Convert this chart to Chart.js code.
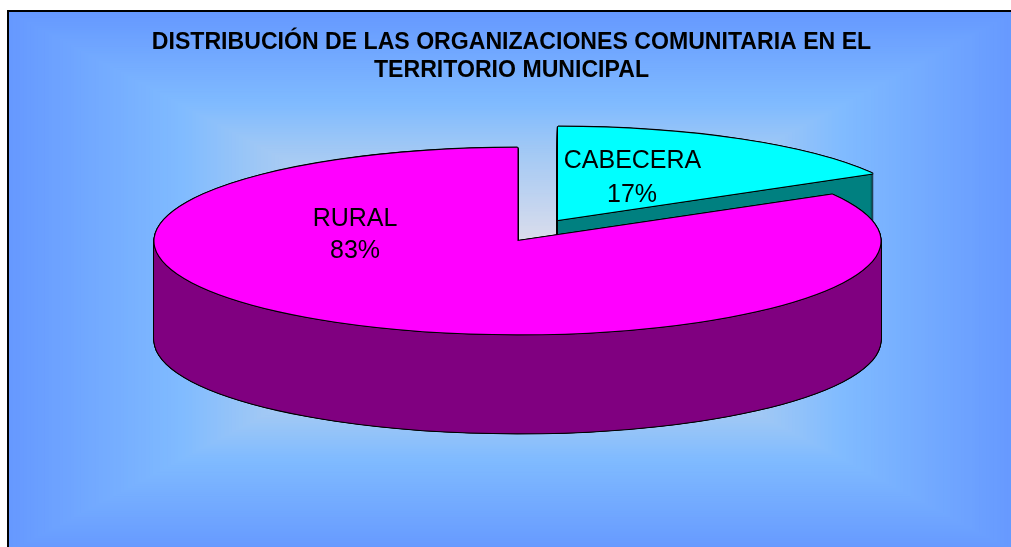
<!DOCTYPE html>
<html>
<head>
<meta charset="utf-8">
<style>html,body{margin:0;padding:0;background:#fff;overflow:hidden}canvas{display:block}</style>
<script src="https://cdn.jsdelivr.net/npm/chart.js@4/dist/chart.umd.min.js"></script>
</head>
<body>
<canvas id="c" width="1011" height="547"></canvas>
<script>
const titleLines = ['DISTRIBUCIÓN DE LAS ORGANIZACIONES COMUNITARIA EN EL', 'TERRITORIO MUNICIPAL'];
const categories = ['CABECERA', 'RURAL'];
const shares = [16.7, 83.3];
const topColors = ['#00FFFF', '#FF00FF'];
const wallColors = ['#008080', '#800080'];

const FONT = '"Liberation Sans", Arial, sans-serif';
const pie3d = {
  id: 'pie3d',
  beforeDraw(chart) {
    const ctx = chart.ctx, o = chart.options.plugins.pie3d;
    const f = o.frame;
    ctx.save();
    ctx.fillStyle = '#fff';
    ctx.fillRect(0, 0, chart.width, chart.height);
    ctx.fillStyle = '#000';
    ctx.fillRect(f.x - 2, f.y - 2, f.w + 4, f.h + 4);
    const cx = f.x + f.w / 2, cy = f.y + f.h / 2, steps = 140;
    for (let i = steps; i >= 0; i--) {
      const t = i / steps;
      ctx.fillStyle = ramp(o.stops, t);
      ctx.fillRect(cx - f.w / 2 * t, cy - f.h / 2 * t, f.w * t, f.h * t);
    }
    ctx.restore();
  },
  beforeDatasetDraw() { return false; },
  afterDatasetsDraw(chart) {
    const ctx = chart.ctx, o = chart.options.plugins.pie3d;
    const arcs = chart.getDatasetMeta(0).data;
    arcs.forEach((el, i) => {
      const ex = o.explode[i];
      const paint = (color, ox, oy) => {
        const base = el.options;
        el.options = Object.assign(Object.create(base), {backgroundColor: color, borderWidth: 0});
        ctx.save();
        ctx.translate(o.cx - el.x + ex[0] + ox, o.cy - el.y + ex[1] + oy);
        ctx.translate(0, el.y);
        ctx.scale(1, o.tilt);
        ctx.translate(0, -el.y);
        el.draw(ctx);
        ctx.restore();
        el.options = base;
      };
      const h = o.halo, d = h * 0.7;
      const halo = [[-h, 0], [h, 0], [0, -h], [0, h], [-d, -d], [d, -d], [-d, d], [d, d]];
      for (let s = o.depth; s >= 0; s--) {
        paint('#000', -h, s);
        paint('#000', h, s);
      }
      halo.forEach(p => paint('#000', p[0], o.depth + p[1]));
      for (let s = o.depth; s > 0; s--) paint(wallColors[i], 0, s);
      halo.forEach(p => paint('#000', p[0], p[1]));
      paint(topColors[i], 0, 0);
    });
    const total = shares.reduce((a, b) => a + b, 0);
    ctx.save();
    ctx.fillStyle = '#000';
    ctx.font = o.labelFont;
    ctx.textAlign = 'center';
    ctx.textBaseline = 'alphabetic';
    categories.forEach((name, i) => {
      const p = o.labelAt[i];
      ctx.fillText(name, p[0], p[1]);
      ctx.fillText(Math.round(shares[i] / total * 100) + '%', p[2], p[3]);
    });
    ctx.restore();
  }
};

function ramp(stops, t) {
  let k = 0;
  while (k < stops.length - 2 && t > stops[k + 1][0]) k++;
  const a = stops[k], b = stops[k + 1], u = Math.min(1, (t - a[0]) / (b[0] - a[0]));
  const c = [1, 2, 3].map(j => Math.round(a[j] + (b[j] - a[j]) * u));
  return `rgb(${c[0]},${c[1]},${c[2]})`;
}

new Chart(document.getElementById('c'), {
  type: 'pie',
  data: {
    labels: categories,
    datasets: [{data: shares, backgroundColor: topColors, borderWidth: 0, radius: 363}]
  },
  plugins: [pie3d],
  options: {
    responsive: false,
    animation: false,
    rotation: 0,
    layout: {padding: {left: 12, top: 29}},
    plugins: {
      legend: {display: false},
      tooltip: {enabled: false},
      title: {
        display: true,
        text: titleLines,
        color: '#000',
        font: {family: FONT, size: 23.1, weight: 'bold', lineHeight: 1.2},
        padding: 0
      },
      pie3d: {
        cx: 517.5, cy: 241, tilt: 0.257, depth: 99, halo: 1.1,
        explode: [[40.5, -21], [0, 0]],
        labelFont: '25px ' + FONT,
        labelAt: [[632.5, 168, 632, 202], [355, 226, 355, 258]],
        frame: {x: 9, y: 12, w: 1006, h: 540},
        stops: [[0, 240, 238, 236], [0.17, 216, 220, 236], [0.5, 160, 200, 245], [0.66, 128, 187, 255], [1, 102, 153, 255]]
      }
    }
  }
});
</script>
</body>
</html>
